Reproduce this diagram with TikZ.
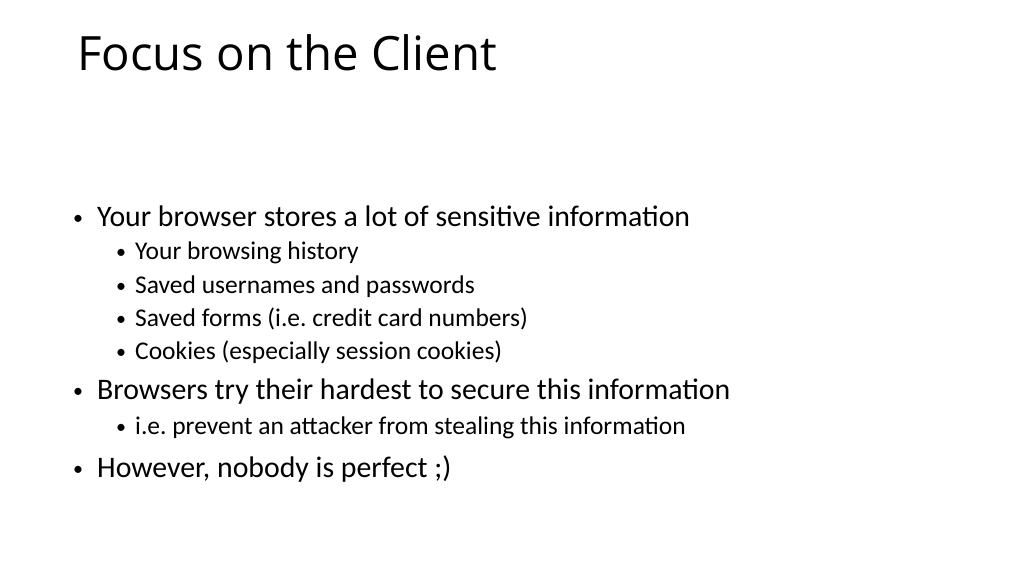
\documentclass[tikz,border=0pt]{standalone}
\usepackage{fontspec}
\setmainfont{Carlito}
\newfontfamily\titlefont{Open Sans}
\frenchspacing
\begin{document}
\begin{tikzpicture}[x=1pt,y=-1pt,
    lvlone/.style={anchor=base west, inner sep=0pt, font=\fontsize{29.8}{33}\selectfont},
    lvltwo/.style={anchor=base west, inner sep=0pt, font=\fontsize{25.5}{28}\selectfont},
    dot/.style={anchor=base west, inner sep=0pt, font=\fontsize{20}{22}\selectfont}]
    % Page
    \useasboundingbox (0,0) rectangle (1024,575);
    \fill[white] (0,0) rectangle (1024,575);

    % Title
    \node[anchor=base west, inner sep=0pt, font=\titlefont\fontsize{47.3}{52}\selectfont] (title) at (77,71) {Focus on the Client};

    % First level
    \node[dot] (b1) at (73,224) {\textbullet};
    \node[lvlone] (t1) at (97,226) {Your browser stores a lot of sensitive information};
    \node[dot] (b2) at (73,397) {\textbullet};
    \node[lvlone] (t2) at (97,399) {Browsers try their hardest to secure this information};
    \node[dot] (b3) at (73,475) {\textbullet};
    \node[lvlone] (t3) at (97,477) {However, nobody is perfect ;)};

    % Second level
    \foreach \y/\txt [count=\i] in {259/Your browsing history,
        293/Saved usernames and passwords,
        326/Saved forms (i.e. credit card numbers),
        359/Cookies (especially session cookies),
        434/i.e. prevent an attacker from stealing this information}{
      \node[dot] (s\i) at (116,\y-1) {\textbullet};
      \node[lvltwo] (u\i) at (135,\y) {\txt};
    }
\end{tikzpicture}
\end{document}
